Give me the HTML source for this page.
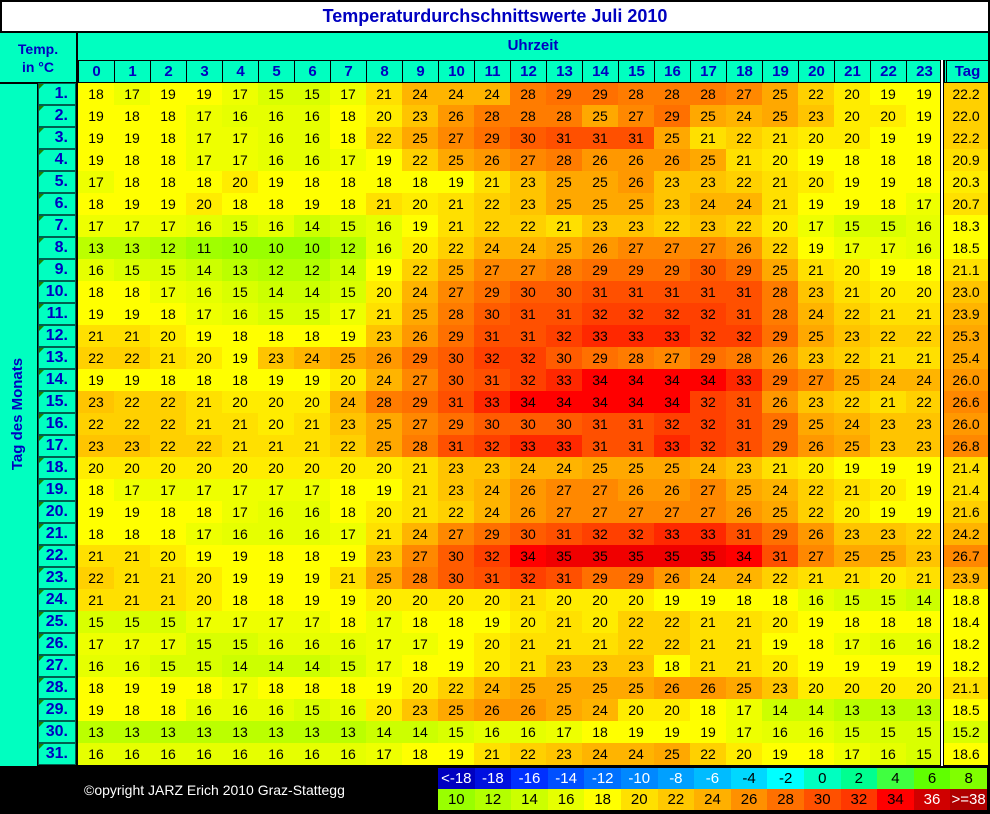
<!DOCTYPE html>
<html><head><meta charset="utf-8"><style>
*{margin:0;padding:0;box-sizing:border-box}
body{width:990px;height:814px;background:#000;position:relative;overflow:hidden;font-family:"Liberation Sans",sans-serif}
.abs{position:absolute}
#title{left:0;top:0;width:990px;height:33px;background:#fff;border:2px solid #000;text-align:center;font:bold 18px/29px "Liberation Sans",sans-serif;color:#0000C0}
.cy{background:#00FFC0}
#tl{left:0;top:33px;width:76px;height:49px;text-align:center;color:#0000C0;font:bold 14px/18px "Liberation Sans",sans-serif;padding-top:7px}
#uz{left:78px;top:33px;width:910px;height:27px;text-align:center;color:#0000C0;font:bold 15px/26px "Liberation Sans",sans-serif}
#hr{left:78px;top:60px;height:22px;display:flex}
#hr div{width:36px;height:22px;border-left:1px solid #000;border-top:1px solid #000;text-align:center;color:#0000C0;font:bold 15px/22px "Liberation Sans",sans-serif}
#hr div.tg{width:44px;margin-left:2px;border-left:3px double #000}
#lc{left:0;top:84px;width:37px;height:682px}
#vt{left:-62px;top:404px;width:160px;height:20px;transform:rotate(-90deg);text-align:center;color:#0000C0;font:bold 15px/20px "Liberation Sans",sans-serif}
#days{left:38px;top:83px;width:38px}
#days div{height:22px;border:1px solid #006050;background:#00FFC0;color:#0000C0;font:bold 16px/20px "Liberation Sans",sans-serif;text-align:right;padding-right:7px;position:relative}
#days div:before{content:"";position:absolute;left:0;top:0;border-top:5px solid #208000;border-right:5px solid transparent}
table{border-collapse:collapse;table-layout:fixed}
#dt{left:78px;top:83px;width:862px}
#dt td{width:36px;height:22px;text-align:center;font:14px/22px "Liberation Sans",sans-serif;color:#000}
#tg{left:944px;top:83px;width:44px}
#tg div{height:22px;text-align:center;font:14px/22px "Liberation Sans",sans-serif;color:#000}
#dl{left:940px;top:60px;width:4px;height:706px;border-left:1px solid #000;border-right:1px solid #000;background:#fff}
.a10{background:#99FF00}.a11{background:#A0FF00}.a12{background:#B3FF00}.a13{background:#BBFF00}.a14{background:#CCFF00}.a15{background:#D9FF00}.a16{background:#E6FF00}.a17{background:#EEFF00}.a18,.a19{background:#FFFF00}.a20{background:#FFEC00}.a21{background:#FFE000}.a22{background:#FFD000}.a23{background:#FFC400}.a24{background:#FFB400}.a25{background:#FFA800}.a26{background:#FF9800}.a27{background:#FF8800}.a28{background:#FF7C00}.a29{background:#FF7000}.a30{background:#FF5C00}.a31{background:#FF5000}.a32{background:#FF4000}.a33{background:#FF2800}.a34{background:#FF0000}.a35{background:#F00000}
#cp{left:84px;top:781px;color:#fff;font:14px/18px "Liberation Sans",sans-serif}
#lg{left:438px;top:768px}
#lg td{width:36.6px;height:21px;text-align:center;font:15px/21px "Liberation Sans",sans-serif;color:#000;padding:0}
#lg .w{color:#fff}
</style></head><body>
<div id="title" class="abs">Temperaturdurchschnittswerte Juli 2010</div>
<div id="tl" class="abs cy">Temp.<br>in °C</div>
<div id="uz" class="abs cy">Uhrzeit</div>
<div id="hr" class="abs cy"><div>0</div><div>1</div><div>2</div><div>3</div><div>4</div><div>5</div><div>6</div><div>7</div><div>8</div><div>9</div><div>10</div><div>11</div><div>12</div><div>13</div><div>14</div><div>15</div><div>16</div><div>17</div><div>18</div><div>19</div><div>20</div><div>21</div><div>22</div><div>23</div><div class="tg">Tag</div></div>
<div id="lc" class="abs cy"></div>
<div id="vt" class="abs">Tag des Monats</div>
<div id="days" class="abs"><div>1.</div><div>2.</div><div>3.</div><div>4.</div><div>5.</div><div>6.</div><div>7.</div><div>8.</div><div>9.</div><div>10.</div><div>11.</div><div>12.</div><div>13.</div><div>14.</div><div>15.</div><div>16.</div><div>17.</div><div>18.</div><div>19.</div><div>20.</div><div>21.</div><div>22.</div><div>23.</div><div>24.</div><div>25.</div><div>26.</div><div>27.</div><div>28.</div><div>29.</div><div>30.</div><div>31.</div></div>
<table id="dt" class="abs">
<tr><td class=a18>18<td class=a17>17<td class=a19>19<td class=a19>19<td class=a17>17<td class=a15>15<td class=a15>15<td class=a17>17<td class=a21>21<td class=a24>24<td class=a24>24<td class=a24>24<td class=a28>28<td class=a29>29<td class=a29>29<td class=a28>28<td class=a28>28<td class=a28>28<td class=a27>27<td class=a25>25<td class=a22>22<td class=a20>20<td class=a19>19<td class=a19>19
<tr><td class=a19>19<td class=a18>18<td class=a18>18<td class=a17>17<td class=a16>16<td class=a16>16<td class=a16>16<td class=a18>18<td class=a20>20<td class=a23>23<td class=a26>26<td class=a28>28<td class=a28>28<td class=a28>28<td class=a25>25<td class=a27>27<td class=a29>29<td class=a25>25<td class=a24>24<td class=a25>25<td class=a23>23<td class=a20>20<td class=a20>20<td class=a19>19
<tr><td class=a19>19<td class=a19>19<td class=a18>18<td class=a17>17<td class=a17>17<td class=a16>16<td class=a16>16<td class=a18>18<td class=a22>22<td class=a25>25<td class=a27>27<td class=a29>29<td class=a30>30<td class=a31>31<td class=a31>31<td class=a31>31<td class=a25>25<td class=a21>21<td class=a22>22<td class=a21>21<td class=a20>20<td class=a20>20<td class=a19>19<td class=a19>19
<tr><td class=a19>19<td class=a18>18<td class=a18>18<td class=a17>17<td class=a17>17<td class=a16>16<td class=a16>16<td class=a17>17<td class=a19>19<td class=a22>22<td class=a25>25<td class=a26>26<td class=a27>27<td class=a28>28<td class=a26>26<td class=a26>26<td class=a26>26<td class=a25>25<td class=a21>21<td class=a20>20<td class=a19>19<td class=a18>18<td class=a18>18<td class=a18>18
<tr><td class=a17>17<td class=a18>18<td class=a18>18<td class=a18>18<td class=a20>20<td class=a19>19<td class=a18>18<td class=a18>18<td class=a18>18<td class=a18>18<td class=a19>19<td class=a21>21<td class=a23>23<td class=a25>25<td class=a25>25<td class=a26>26<td class=a23>23<td class=a23>23<td class=a22>22<td class=a21>21<td class=a20>20<td class=a19>19<td class=a19>19<td class=a18>18
<tr><td class=a18>18<td class=a19>19<td class=a19>19<td class=a20>20<td class=a18>18<td class=a18>18<td class=a19>19<td class=a18>18<td class=a21>21<td class=a20>20<td class=a21>21<td class=a22>22<td class=a23>23<td class=a25>25<td class=a25>25<td class=a25>25<td class=a23>23<td class=a24>24<td class=a24>24<td class=a21>21<td class=a19>19<td class=a19>19<td class=a18>18<td class=a17>17
<tr><td class=a17>17<td class=a17>17<td class=a17>17<td class=a16>16<td class=a15>15<td class=a16>16<td class=a14>14<td class=a15>15<td class=a16>16<td class=a19>19<td class=a21>21<td class=a22>22<td class=a22>22<td class=a21>21<td class=a23>23<td class=a23>23<td class=a22>22<td class=a23>23<td class=a22>22<td class=a20>20<td class=a17>17<td class=a15>15<td class=a15>15<td class=a16>16
<tr><td class=a13>13<td class=a13>13<td class=a12>12<td class=a11>11<td class=a10>10<td class=a10>10<td class=a10>10<td class=a12>12<td class=a16>16<td class=a20>20<td class=a22>22<td class=a24>24<td class=a24>24<td class=a25>25<td class=a26>26<td class=a27>27<td class=a27>27<td class=a27>27<td class=a26>26<td class=a22>22<td class=a19>19<td class=a17>17<td class=a17>17<td class=a16>16
<tr><td class=a16>16<td class=a15>15<td class=a15>15<td class=a14>14<td class=a13>13<td class=a12>12<td class=a12>12<td class=a14>14<td class=a19>19<td class=a22>22<td class=a25>25<td class=a27>27<td class=a27>27<td class=a28>28<td class=a29>29<td class=a29>29<td class=a29>29<td class=a30>30<td class=a29>29<td class=a25>25<td class=a21>21<td class=a20>20<td class=a19>19<td class=a18>18
<tr><td class=a18>18<td class=a18>18<td class=a17>17<td class=a16>16<td class=a15>15<td class=a14>14<td class=a14>14<td class=a15>15<td class=a20>20<td class=a24>24<td class=a27>27<td class=a29>29<td class=a30>30<td class=a30>30<td class=a31>31<td class=a31>31<td class=a31>31<td class=a31>31<td class=a31>31<td class=a28>28<td class=a23>23<td class=a21>21<td class=a20>20<td class=a20>20
<tr><td class=a19>19<td class=a19>19<td class=a18>18<td class=a17>17<td class=a16>16<td class=a15>15<td class=a15>15<td class=a17>17<td class=a21>21<td class=a25>25<td class=a28>28<td class=a30>30<td class=a31>31<td class=a31>31<td class=a32>32<td class=a32>32<td class=a32>32<td class=a32>32<td class=a31>31<td class=a28>28<td class=a24>24<td class=a22>22<td class=a21>21<td class=a21>21
<tr><td class=a21>21<td class=a21>21<td class=a20>20<td class=a19>19<td class=a18>18<td class=a18>18<td class=a18>18<td class=a19>19<td class=a23>23<td class=a26>26<td class=a29>29<td class=a31>31<td class=a31>31<td class=a32>32<td class=a33>33<td class=a33>33<td class=a33>33<td class=a32>32<td class=a32>32<td class=a29>29<td class=a25>25<td class=a23>23<td class=a22>22<td class=a22>22
<tr><td class=a22>22<td class=a22>22<td class=a21>21<td class=a20>20<td class=a19>19<td class=a23>23<td class=a24>24<td class=a25>25<td class=a26>26<td class=a29>29<td class=a30>30<td class=a32>32<td class=a32>32<td class=a30>30<td class=a29>29<td class=a28>28<td class=a27>27<td class=a29>29<td class=a28>28<td class=a26>26<td class=a23>23<td class=a22>22<td class=a21>21<td class=a21>21
<tr><td class=a19>19<td class=a19>19<td class=a18>18<td class=a18>18<td class=a18>18<td class=a19>19<td class=a19>19<td class=a20>20<td class=a24>24<td class=a27>27<td class=a30>30<td class=a31>31<td class=a32>32<td class=a33>33<td class=a34>34<td class=a34>34<td class=a34>34<td class=a34>34<td class=a33>33<td class=a29>29<td class=a27>27<td class=a25>25<td class=a24>24<td class=a24>24
<tr><td class=a23>23<td class=a22>22<td class=a22>22<td class=a21>21<td class=a20>20<td class=a20>20<td class=a20>20<td class=a24>24<td class=a28>28<td class=a29>29<td class=a31>31<td class=a33>33<td class=a34>34<td class=a34>34<td class=a34>34<td class=a34>34<td class=a34>34<td class=a32>32<td class=a31>31<td class=a26>26<td class=a23>23<td class=a22>22<td class=a21>21<td class=a22>22
<tr><td class=a22>22<td class=a22>22<td class=a22>22<td class=a21>21<td class=a21>21<td class=a20>20<td class=a21>21<td class=a23>23<td class=a25>25<td class=a27>27<td class=a29>29<td class=a30>30<td class=a30>30<td class=a30>30<td class=a31>31<td class=a31>31<td class=a32>32<td class=a32>32<td class=a31>31<td class=a29>29<td class=a25>25<td class=a24>24<td class=a23>23<td class=a23>23
<tr><td class=a23>23<td class=a23>23<td class=a22>22<td class=a22>22<td class=a21>21<td class=a21>21<td class=a21>21<td class=a22>22<td class=a25>25<td class=a28>28<td class=a31>31<td class=a32>32<td class=a33>33<td class=a33>33<td class=a31>31<td class=a31>31<td class=a33>33<td class=a32>32<td class=a31>31<td class=a29>29<td class=a26>26<td class=a25>25<td class=a23>23<td class=a23>23
<tr><td class=a20>20<td class=a20>20<td class=a20>20<td class=a20>20<td class=a20>20<td class=a20>20<td class=a20>20<td class=a20>20<td class=a20>20<td class=a21>21<td class=a23>23<td class=a23>23<td class=a24>24<td class=a24>24<td class=a25>25<td class=a25>25<td class=a25>25<td class=a24>24<td class=a23>23<td class=a21>21<td class=a20>20<td class=a19>19<td class=a19>19<td class=a19>19
<tr><td class=a18>18<td class=a17>17<td class=a17>17<td class=a17>17<td class=a17>17<td class=a17>17<td class=a17>17<td class=a18>18<td class=a19>19<td class=a21>21<td class=a23>23<td class=a24>24<td class=a26>26<td class=a27>27<td class=a27>27<td class=a26>26<td class=a26>26<td class=a27>27<td class=a25>25<td class=a24>24<td class=a22>22<td class=a21>21<td class=a20>20<td class=a19>19
<tr><td class=a19>19<td class=a19>19<td class=a18>18<td class=a18>18<td class=a17>17<td class=a16>16<td class=a16>16<td class=a18>18<td class=a20>20<td class=a21>21<td class=a22>22<td class=a24>24<td class=a26>26<td class=a27>27<td class=a27>27<td class=a27>27<td class=a27>27<td class=a27>27<td class=a26>26<td class=a25>25<td class=a22>22<td class=a20>20<td class=a19>19<td class=a19>19
<tr><td class=a18>18<td class=a18>18<td class=a18>18<td class=a17>17<td class=a16>16<td class=a16>16<td class=a16>16<td class=a17>17<td class=a21>21<td class=a24>24<td class=a27>27<td class=a29>29<td class=a30>30<td class=a31>31<td class=a32>32<td class=a32>32<td class=a33>33<td class=a33>33<td class=a31>31<td class=a29>29<td class=a26>26<td class=a23>23<td class=a23>23<td class=a22>22
<tr><td class=a21>21<td class=a21>21<td class=a20>20<td class=a19>19<td class=a19>19<td class=a18>18<td class=a18>18<td class=a19>19<td class=a23>23<td class=a27>27<td class=a30>30<td class=a32>32<td class=a34>34<td class=a35>35<td class=a35>35<td class=a35>35<td class=a35>35<td class=a35>35<td class=a34>34<td class=a31>31<td class=a27>27<td class=a25>25<td class=a25>25<td class=a23>23
<tr><td class=a22>22<td class=a21>21<td class=a21>21<td class=a20>20<td class=a19>19<td class=a19>19<td class=a19>19<td class=a21>21<td class=a25>25<td class=a28>28<td class=a30>30<td class=a31>31<td class=a32>32<td class=a31>31<td class=a29>29<td class=a29>29<td class=a26>26<td class=a24>24<td class=a24>24<td class=a22>22<td class=a21>21<td class=a21>21<td class=a20>20<td class=a21>21
<tr><td class=a21>21<td class=a21>21<td class=a21>21<td class=a20>20<td class=a18>18<td class=a18>18<td class=a19>19<td class=a19>19<td class=a20>20<td class=a20>20<td class=a20>20<td class=a20>20<td class=a21>21<td class=a20>20<td class=a20>20<td class=a20>20<td class=a19>19<td class=a19>19<td class=a18>18<td class=a18>18<td class=a16>16<td class=a15>15<td class=a15>15<td class=a14>14
<tr><td class=a15>15<td class=a15>15<td class=a15>15<td class=a17>17<td class=a17>17<td class=a17>17<td class=a17>17<td class=a18>18<td class=a17>17<td class=a18>18<td class=a18>18<td class=a19>19<td class=a20>20<td class=a21>21<td class=a20>20<td class=a22>22<td class=a22>22<td class=a21>21<td class=a21>21<td class=a20>20<td class=a19>19<td class=a18>18<td class=a18>18<td class=a18>18
<tr><td class=a17>17<td class=a17>17<td class=a17>17<td class=a15>15<td class=a15>15<td class=a16>16<td class=a16>16<td class=a16>16<td class=a17>17<td class=a17>17<td class=a19>19<td class=a20>20<td class=a21>21<td class=a21>21<td class=a21>21<td class=a22>22<td class=a22>22<td class=a21>21<td class=a21>21<td class=a19>19<td class=a18>18<td class=a17>17<td class=a16>16<td class=a16>16
<tr><td class=a16>16<td class=a16>16<td class=a15>15<td class=a15>15<td class=a14>14<td class=a14>14<td class=a14>14<td class=a15>15<td class=a17>17<td class=a18>18<td class=a19>19<td class=a20>20<td class=a21>21<td class=a23>23<td class=a23>23<td class=a23>23<td class=a18>18<td class=a21>21<td class=a21>21<td class=a20>20<td class=a19>19<td class=a19>19<td class=a19>19<td class=a19>19
<tr><td class=a18>18<td class=a19>19<td class=a19>19<td class=a18>18<td class=a17>17<td class=a18>18<td class=a18>18<td class=a18>18<td class=a19>19<td class=a20>20<td class=a22>22<td class=a24>24<td class=a25>25<td class=a25>25<td class=a25>25<td class=a25>25<td class=a26>26<td class=a26>26<td class=a25>25<td class=a23>23<td class=a20>20<td class=a20>20<td class=a20>20<td class=a20>20
<tr><td class=a19>19<td class=a18>18<td class=a18>18<td class=a16>16<td class=a16>16<td class=a16>16<td class=a15>15<td class=a16>16<td class=a20>20<td class=a23>23<td class=a25>25<td class=a26>26<td class=a26>26<td class=a25>25<td class=a24>24<td class=a20>20<td class=a20>20<td class=a18>18<td class=a17>17<td class=a14>14<td class=a14>14<td class=a13>13<td class=a13>13<td class=a13>13
<tr><td class=a13>13<td class=a13>13<td class=a13>13<td class=a13>13<td class=a13>13<td class=a13>13<td class=a13>13<td class=a13>13<td class=a14>14<td class=a14>14<td class=a15>15<td class=a16>16<td class=a16>16<td class=a17>17<td class=a18>18<td class=a19>19<td class=a19>19<td class=a19>19<td class=a17>17<td class=a16>16<td class=a16>16<td class=a15>15<td class=a15>15<td class=a15>15
<tr><td class=a16>16<td class=a16>16<td class=a16>16<td class=a16>16<td class=a16>16<td class=a16>16<td class=a16>16<td class=a16>16<td class=a17>17<td class=a18>18<td class=a19>19<td class=a21>21<td class=a22>22<td class=a23>23<td class=a24>24<td class=a24>24<td class=a25>25<td class=a22>22<td class=a20>20<td class=a19>19<td class=a18>18<td class=a17>17<td class=a16>16<td class=a15>15
</table>
<div id="dl" class="abs"></div>
<div id="tg" class="abs">
<div class=a22>22.2</div><div class=a22>22.0</div><div class=a22>22.2</div><div class=a21>20.9</div><div class=a20>20.3</div><div class=a21>20.7</div><div class=a18>18.3</div><div class=a18>18.5</div><div class=a21>21.1</div><div class=a23>23.0</div><div class=a24>23.9</div><div class=a25>25.3</div><div class=a25>25.4</div><div class=a26>26.0</div><div class=a27>26.6</div><div class=a26>26.0</div><div class=a27>26.8</div><div class=a21>21.4</div><div class=a21>21.4</div><div class=a22>21.6</div><div class=a24>24.2</div><div class=a27>26.7</div><div class=a24>23.9</div><div class=a19>18.8</div><div class=a18>18.4</div><div class=a18>18.2</div><div class=a18>18.2</div><div class=a21>21.1</div><div class=a18>18.5</div><div class=a15>15.2</div><div class=a19>18.6</div>
</div>
<div id="cp" class="abs">©opyright JARZ Erich 2010 Graz-Stattegg</div>
<table id="lg" class="abs">
<tr><td class=w style="background:#0000C0">&lt;-18<td class=w style="background:#0010E0">-18<td class=w style="background:#0030FF">-16<td class=w style="background:#0050FF">-14<td class=w style="background:#0070FF">-12<td class=w style="background:#0088FF">-10<td class=w style="background:#00A0FF">-8<td class=w style="background:#00BCFF">-6<td style="background:#00D8FF">-4<td style="background:#00FFFF">-2<td style="background:#00FFC0">0<td style="background:#00FF90">2<td style="background:#40FF40">4<td style="background:#60FF00">6<td style="background:#80FF00">8
<tr><td style="background:#99FF00">10<td style="background:#B3FF00">12<td style="background:#CCFF00">14<td style="background:#E6FF00">16<td style="background:#FFFF00">18<td style="background:#FFE000">20<td style="background:#FFC800">22<td style="background:#FFB000">24<td style="background:#FF9000">26<td style="background:#FF7000">28<td style="background:#FF5000">30<td style="background:#FF3800">32<td style="background:#FF0000">34<td class=w style="background:#D00000">36<td class=w style="background:#B00000">&gt;=38
</table>
</body></html>
